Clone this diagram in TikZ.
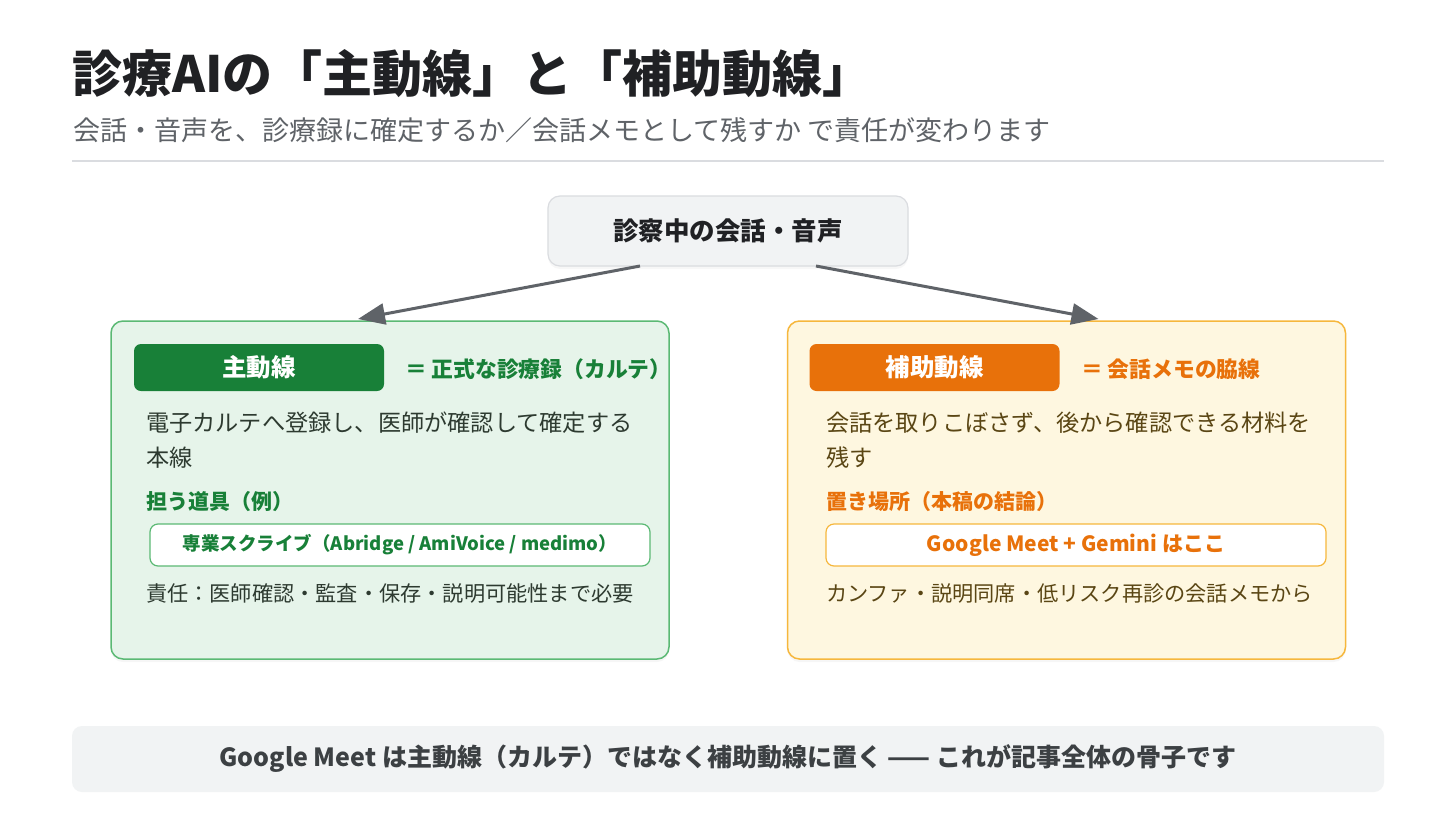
\documentclass[tikz,border=0pt]{standalone}
\usepackage{fontspec}
\setmainfont{Noto Sans CJK JP}
\usetikzlibrary{arrows.meta,shadows}

\definecolor{ink}{HTML}{202124}
\definecolor{subink}{HTML}{5F6368}
\definecolor{rulegray}{HTML}{DADCE0}
\definecolor{srcfill}{HTML}{F1F3F4}
\definecolor{flowgray}{HTML}{5F6368}
\definecolor{greenbg}{HTML}{E6F4EA}
\definecolor{greenline}{HTML}{5BB974}
\definecolor{greentag}{HTML}{188038}
\definecolor{greenink}{HTML}{2D3A30}
\definecolor{amberbg}{HTML}{FEF7E0}
\definecolor{amberline}{HTML}{F6B73C}
\definecolor{orangetag}{HTML}{E8710A}
\definecolor{amberink}{HTML}{5A4614}
\definecolor{barink}{HTML}{3C4043}

\newcommand{\fsz}[1]{\fontsize{#1}{#1}\selectfont}

\begin{document}
\begin{tikzpicture}[x=1pt, y=-1pt,
    every node/.style={inner sep=0pt, outer sep=0pt},
    panel/.style={draw, line width=1.5pt, rounded corners=12pt, minimum width=558pt, minimum height=338pt,
        drop shadow={opacity=0.07, shadow xshift=0pt, shadow yshift=-3pt}},
    tag/.style={rounded corners=7pt, minimum width=250pt, minimum height=47pt, text=white, font=\fsz{24.5}\bfseries},
    toolbox/.style={draw, fill=white, line width=1.2pt, rounded corners=8pt, minimum width=500pt, minimum height=42pt},
    flow/.style={draw=flowgray, line width=3pt, -{Triangle[length=27pt, width=21pt]}}]

    \useasboundingbox[fill=white] (0,0) rectangle (1456,819);

    % heading
    \node[anchor=west, font=\fsz{50}\bfseries, text=ink] (title) at (72,74) {診療AIの「主動線」と「補助動線」};
    \node[anchor=west, font=\fsz{27}, text=subink] (subtitle) at (73,130) {会話・音声を、診療録に確定するか／会話メモとして残すか で責任が変わります};
    \draw[rulegray, line width=1.5pt] (72,161) -- (1384,161);

    % source
    \node[draw=rulegray, fill=srcfill, line width=1.2pt, rounded corners=12pt, minimum width=360pt, minimum height=70pt,
        font=\fsz{25.5}\bfseries, text=ink, drop shadow={opacity=0.06, shadow xshift=0pt, shadow yshift=-3pt}] (src) at (728,231) {診察中の会話・音声};

    % panels
    \node[panel, draw=greenline, fill=greenbg] (mainbox) at (390,490) {};
    \node[panel, draw=amberline, fill=amberbg] (subbox) at (1066.5,490) {};

    \draw[flow] ([xshift=-88pt]src.south) -- ([xshift=-32pt, yshift=2pt]mainbox.north);
    \draw[flow] ([xshift=88pt]src.south) -- ([xshift=32pt, yshift=2pt]subbox.north);

    % main line
    \node[tag, fill=greentag] (maintag) at (259,367.5) {主動線};
    \node[anchor=west, font=\fsz{21.8}\bfseries, text=greentag] (maindef) at (405,369) {＝ 正式な診療録（カルテ）};
    \node[anchor=west, font=\fsz{23.2}, text=greenink] (maintxt1) at (146,423) {電子カルテへ登録し、医師が確認して確定する};
    \node[anchor=west, font=\fsz{23.2}, text=greenink] (maintxt2) at (146,458) {本線};
    \node[anchor=west, font=\fsz{21}\bfseries, text=greentag] (mainhead) at (146,502) {担う道具（例）};
    \node[toolbox, draw=greenline, text=greentag, font=\fsz{18.5}\bfseries] (maintool) at (400,545) {専業スクライブ（Abridge / AmiVoice / medimo）};
    \node[anchor=west, font=\fsz{21.2}, text=greenink] (mainnote) at (146,593) {責任：医師確認・監査・保存・説明可能性まで必要};

    % sub line
    \node[tag, fill=orangetag] (subtag) at (934.5,367.5) {補助動線};
    \node[anchor=west, font=\fsz{21.8}\bfseries, text=orangetag] (subdef) at (1081,369) {＝ 会話メモの脇線};
    \node[anchor=west, font=\fsz{23.2}, text=amberink] (subtxt1) at (826,423) {会話を取りこぼさず、後から確認できる材料を};
    \node[anchor=west, font=\fsz{23.2}, text=amberink] (subtxt2) at (826,458) {残す};
    \node[anchor=west, font=\fsz{21}\bfseries, text=orangetag] (subhead) at (826,502) {置き場所（本稿の結論）};
    \node[toolbox, draw=amberline, text=orangetag, font=\fsz{21}\bfseries] (subtool) at (1076,545) {Google Meet + Gemini はここ};
    \node[anchor=west, font=\fsz{21.2}, text=amberink] (subnote) at (826,593) {カンファ・説明同席・低リスク再診の会話メモから};

    % summary
    \node[fill=srcfill, rounded corners=10pt, minimum width=1312pt, minimum height=66pt,
        font=\fsz{25}\bfseries, text=barink] (summary) at (728,759) {Google Meet は主動線（カルテ）ではなく補助動線に置く —— これが記事全体の骨子です};
\end{tikzpicture}
\end{document}
